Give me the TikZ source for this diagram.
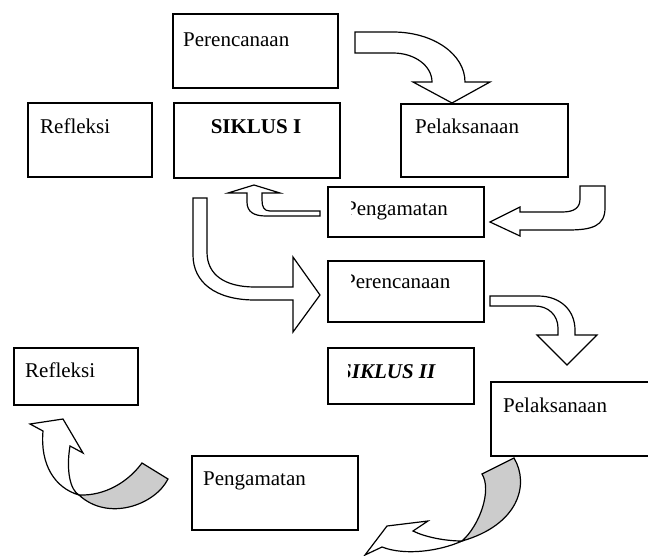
\documentclass[tikz,border=0pt]{standalone}
\usepackage{fontspec}
\setmainfont{Liberation Serif}

\begin{document}
\begin{tikzpicture}[x=1pt,y=-1pt,
  box/.style={draw, line width=1.5pt, anchor=north west, inner sep=0pt},
  txt/.style={anchor=base west, inner sep=0pt, font=\fontsize{21}{24}\selectfont},
  blockarrow/.style={draw, fill=white, line width=1.2pt, line join=miter},
  backside/.style={draw, fill=gray!40, line width=1.2pt}]
\useasboundingbox (0,0) rectangle (648,555);
% Siklus I boxes
\node[box, minimum width=165pt, minimum height=74pt] (plan1) at (172,13) {};
\node[box, minimum width=124pt, minimum height=74pt] (refl1) at (27,102) {};
\node[box, minimum width=166pt, minimum height=75pt] (siklus1) at (173,102) {};
\node[box, minimum width=167pt, minimum height=73pt] (pelak1) at (400,103) {};
\node[box, minimum width=156pt, minimum height=50pt] (amat1) at (327,186) {};
% Siklus II boxes
\node[box, minimum width=156pt, minimum height=61pt] (plan2) at (327,260) {};
\node[box, minimum width=146pt, minimum height=56pt] (siklus2) at (327,347) {};
\node[box, minimum width=170pt, minimum height=74pt] (pelak2) at (490,381) {};
\node[box, minimum width=124pt, minimum height=57pt] (refl2) at (13,347) {};
\node[box, minimum width=166pt, minimum height=74pt] (amat2) at (191,455) {};
% Labels
\node[txt] (tplan1) at (183,46) {Perencanaan};
\node[txt] (trefl1) at (40,133) {Refleksi};
\node[txt, anchor=base, font=\fontsize{21}{24}\selectfont\bfseries] (tsiklus1) at (256,133) {SIKLUS I};
\node[txt] (tpelak1) at (415,133) {Pelaksanaan};
\begin{scope}
  \clip (351,180) rectangle (483,330);
  \node[txt] (tamat1) at (345,215) {Pengamatan};
  \node[txt] (tplan2) at (344,288) {Perencanaan};
\end{scope}
\begin{scope}
  \clip (348,347) rectangle (473,403);
  \node[txt, font=\fontsize{21}{24}\selectfont\bfseries\itshape] (tsiklus2) at (340,378) {SIKLUS II};
\end{scope}
\node[txt] (tpelak2) at (503,412) {Pelaksanaan};
\node[txt] (trefl2) at (25,377) {Refleksi};
\node[txt] (tamat2) at (203,485) {Pengamatan};
% Block arrows, cycle I
\draw[blockarrow] (355,32) -- (393,32) .. controls (433,32) and (465,54) .. (465,82) -- (490,82) -- (452,103) -- (413,82) -- (432,82) .. controls (432,66) and (415,53) .. (393,53) -- (355,53) -- cycle;
\draw[blockarrow] (580,186) -- (605,186) -- (605,208) .. controls (605,226) and (592,230) .. (568,230) -- (520,230) -- (520,236) -- (490,222) -- (520,207) -- (520,212) -- (562,212) .. controls (574,212) and (580,208) .. (580,199) -- cycle;
\draw[blockarrow] (320,211) -- (270,211) .. controls (264,211) and (262,207) .. (262,200) -- (262,193) -- (280,193) -- (254,185) -- (228,193) -- (247,193) -- (247,202) .. controls (247,212) and (254,216) .. (266,216) -- (320,216) -- cycle;
% From cycle I to cycle II
\draw[blockarrow] (193,198) -- (207,198) -- (207,252) .. controls (207,275) and (225,287) .. (255,287) -- (293,287) -- (293,257) -- (320,295) -- (293,332) -- (293,300) -- (255,300) .. controls (215,300) and (193,282) .. (193,255) -- cycle;
% Block arrows, cycle II
\draw[blockarrow] (490,296) -- (538,296) .. controls (560,296) and (575,310) .. (575,330) -- (575,335) -- (597,335) -- (567,365) -- (537,335) -- (558,335) -- (558,328) .. controls (558,315) and (548,306) .. (535,306) -- (490,306) -- cycle;
% Curved arrows with shaded back side
\draw[backside] (482,474) -- (514,458) .. controls (530,485) and (518,525) .. (462,541) .. controls (480,525) and (492,490) .. (482,474) -- cycle;
\draw[blockarrow] (462,541) .. controls (440,551) and (405,556) .. (382,547) -- (365,555) -- (387,526) -- (428,521) -- (413,531) .. controls (425,537) and (445,541) .. (462,541) -- cycle;
\draw[backside] (79,495) .. controls (105,496) and (128,482) .. (142,463) -- (168,479) .. controls (155,505) and (108,522) .. (79,495) -- cycle;
\draw[blockarrow] (79,495) .. controls (55,488) and (40,465) .. (43,431) -- (30,424) -- (63,419) -- (83,453) -- (70,446) .. controls (66,470) and (70,490) .. (79,495) -- cycle;
\end{tikzpicture}
\end{document}
